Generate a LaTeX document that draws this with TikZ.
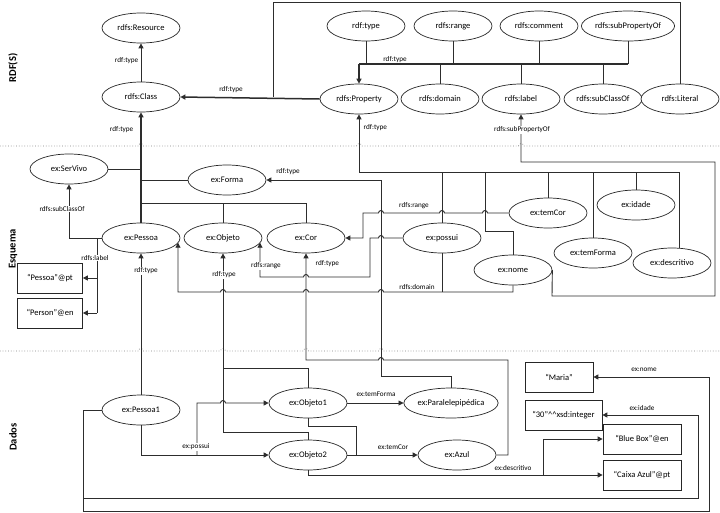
\documentclass[tikz,border=0pt]{standalone}
\usepackage{fontspec}
\setmainfont{Carlito}
\usetikzlibrary{shapes.geometric,arrows.meta}
\definecolor{lc}{RGB}{45,45,45}
\begin{document}
\begin{tikzpicture}[x=1pt,y=-1pt,
  ln/.style={draw=lc,line width=0.9pt},
  tk/.style={draw=lc,line width=1.5pt},
  arr/.style={ln,-{Triangle[length=5pt,width=5pt]}},
  tarr/.style={tk,-{Triangle[length=5pt,width=5pt]}},
  ell/.style={ellipse,draw=black!85,line width=0.7pt,minimum width=78pt,minimum height=30pt,inner sep=0pt,font=\fontsize{8.5}{10}\selectfont,fill=white},
  box/.style={rectangle,draw=black!85,line width=0.7pt,minimum height=30pt,inner sep=0pt,font=\fontsize{8.5}{10}\selectfont,fill=white},
  lbl/.style={font=\fontsize{7.2}{8}\selectfont,inner sep=0.5pt},
  wl/.style={lbl,fill=white},
  sec/.style={font=\bfseries\fontsize{10.5}{12}\selectfont,rotate=90},
  sep/.style={draw=gray,dotted,line width=0.7pt}]
\useasboundingbox[fill=white] (0,0) rectangle (720,512);

% section labels
\node[sec] (tRDF) at (13,68) {RDF(S)};
\node[sec] (tEsq) at (13,249) {Esquema};
\node[sec] (tDad) at (13,437) {Dados};

% separators (with hops)
\draw[sep] (0,146) -- (138.5,146) arc[start angle=180,end angle=360,radius=2.5]
  -- (356.5,146) arc[start angle=180,end angle=360,radius=2.5]
  -- (518.5,146) arc[start angle=180,end angle=360,radius=2.5] -- (720,146);
\draw[sep] (0,351) -- (138.5,351) arc[start angle=180,end angle=360,radius=2.5]
  -- (220.5,351) arc[start angle=180,end angle=360,radius=2.5]
  -- (303.5,351) arc[start angle=180,end angle=360,radius=2.5]
  -- (378.5,351) arc[start angle=180,end angle=360,radius=2.5] -- (720,351);

% RDF(S) nodes
\node[ell] (res) at (141,28) {rdfs:Resource};
\node[ell] (cls) at (141,97) {rdfs:Class};
\node[ell] (rtype) at (366,26) {rdf:type};
\node[ell] (rrange) at (453,26) {rdfs:range};
\node[ell] (rcomment) at (539,26) {rdfs:comment};
\node[ell,minimum width=88pt] (rsubprop) at (628,26) {rdfs:subPropertyOf};
\node[ell] (prop) at (359,99) {rdfs:Property};
\node[ell] (rdomain) at (440,99) {rdfs:domain};
\node[ell] (rlabel) at (521,99) {rdfs:label};
\node[ell] (rsubclass) at (603,99) {rdfs:subClassOf};
\node[ell] (rliteral) at (680,99) {rdfs:Literal};

% Esquema nodes
\node[ell] (servivo) at (69,169) {ex:SerVivo};
\node[ell] (forma) at (227,180) {ex:Forma};
\node[ell] (pessoa) at (141,238) {ex:Pessoa};
\node[ell] (objeto) at (223,238) {ex:Objeto};
\node[ell] (cor) at (306,238) {ex:Cor};
\node[ell] (possui) at (442,238) {ex:possui};
\node[ell] (temcor) at (548,213) {ex:temCor};
\node[ell] (idade) at (636,205) {ex:idade};
\node[ell] (temforma) at (593,253) {ex:temForma};
\node[ell] (nome) at (513,270) {ex:nome};
\node[ell] (descr) at (672,263) {ex:descritivo};
\node[box,minimum width=65pt] (ptbox) at (50,278) {“Pessoa”@pt};
\node[box,minimum width=65pt] (enbox) at (50,313) {“Person”@en};

% Dados nodes
\node[ell] (pessoa1) at (141,410) {ex:Pessoa1};
\node[ell] (objeto1) at (308,403) {ex:Objeto1};
\node[ell] (objeto2) at (308,455) {ex:Objeto2};
\node[ell,minimum width=89pt] (paral) at (451,403) {ex:Paralelepipédica};
\node[ell] (azul) at (457,455) {ex:Azul};
\node[box,minimum width=68pt] (maria) at (559,377) {“Maria”};
\node[box,minimum width=77pt] (trinta) at (563.5,415) {“30”\textasciicircum\textasciicircum xsd:integer};
\node[box,minimum width=78pt] (bluebox) at (642,439) {“Blue Box”@en};
\node[box,minimum width=78pt] (caixa) at (642,475) {“Caixa Azul”@pt};

% ---- RDF(S) connectors
\draw[arr] (cls.north) -- (res.south);
\draw[tarr] (prop.west) -- (cls.east);
\draw[ln] (rliteral.north) -- (680,2) -- (273,2) -- (273,97);
\draw[ln] (rtype.south) -- (366,64);
\draw[ln] (rrange.south) -- (453,64);
\draw[ln] (rcomment.south) -- (539,64);
\draw[ln] (rsubprop.south) -- (628,64);
\draw[ln] (rdomain.north) -- (440,64);
\draw[ln] (rlabel.north) -- (521,64);
\draw[ln] (rsubclass.north) -- (603,64);
\draw[tk] (628,64) -- (359,64);
\draw[tarr] (359,64) -- (prop.north);

% properties -> rdfs:Property
\draw[arr] (359,172) -- (prop.south);
\draw[ln] (359,172) -- (679,172);
\draw[ln] (possui.north) -- (442,172);
\draw[ln] (nome.north) -- (513,231) -- (485,231) -- (485,172);
\draw[ln] (temcor.north) -- (548,172);
\draw[ln] (temforma.north) -- (593,172);
\draw[ln] (idade.north) -- (636,172);
\draw[ln] (679,248.3) -- (679,172);

% ex:nome subPropertyOf rdfs:label
\draw[arr] (nome.east) -- (552,296) -- (715,296) -- (715,162) -- (521,162) -- (rlabel.south);

% classes -> rdfs:Class
\draw[tarr] (pessoa.north) -- (cls.south);
\draw[ln] (servivo.east) -- (141,169);
\draw[ln] (forma.west) -- (141,180);
\draw[ln] (141,203) -- (306,203) -- (cor.north);
\draw[ln] (objeto.north) -- (223,203);

% subClassOf, label
\draw[arr] (pessoa.west) -| (servivo.south);
\draw[ln] (97,238) -- (97,313);
\draw[arr] (97,278) -- (ptbox.east);
\draw[arr] (97,313) -- (enbox.east);

% range temCor -> Cor
\draw[{Triangle[length=5pt,width=5pt]}-,ln] (cor.east) -- (363,238) -- (363,213)
  -- (378.5,213) arc[start angle=180,end angle=360,radius=2.5]
  -- (439.5,213) arc[start angle=180,end angle=360,radius=2.5]
  -- (482.5,213) arc[start angle=180,end angle=360,radius=2.5]
  -- (temcor.west);
% range possui -> Objeto
\draw[arr] (possui.west) -- (383.5,238) arc[start angle=0,end angle=-180,radius=2.5]
  -- (370,238) -- (370,277)
  -- (308.5,277) arc[start angle=0,end angle=-180,radius=2.5]
  -- (260,277) -- (260,242.7);
% domain -> Pessoa
\draw[arr] (nome.south) -- (513,292)
  -- (383.5,292) arc[start angle=0,end angle=-180,radius=2.5]
  -- (308.5,292) arc[start angle=0,end angle=-180,radius=2.5]
  -- (225.5,292) arc[start angle=0,end angle=-180,radius=2.5]
  -- (178,292) -- (178,242.7);
\draw[ln] (possui.south) -- (442,292);

% rdf:type from data
\draw[arr] (paral.north) -- (451,376) -- (381,376) -- (381,180) -- (forma.east);
\draw[arr] (azul.east) -- (508,455) -- (508,360)
  -- (383.5,360) arc[start angle=0,end angle=-180,radius=2.5]
  -- (306,360) -- (cor.south);
\draw[arr] (pessoa1.north) -- (pessoa.south);
\draw[arr] (objeto2.north) -- (308,432) -- (223,432) -- (objeto.south);
\draw[ln] (objeto1.north) -- (308,368) -- (223,368);

% Dados properties
\draw[arr] (pessoa1.south) -- (141,455) -- (objeto2.west);
\draw[arr] (197,455) -- (197,403)
  -- (220.5,403) arc[start angle=180,end angle=360,radius=2.5] -- (objeto1.west);
\draw[arr] (objeto1.east) -- (paral.west);
\draw[arr] (objeto2.east) -- (azul.west);
\draw[ln] (objeto1.south) -- (308,426) -- (356,426) -- (356,455);
\draw[arr] (objeto2.south) -- (308,475) -- (caixa.west);
\draw[arr] (543,475) -- (543,439) -- (bluebox.west);
\draw[arr] (pessoa1.west) -- (83,410) -- (83,511) -- (709,511) -- (709,377) -- (maria.east);
\draw[arr] (83,498) -- (698,498) -- (698,415) -- (trinta.east);

% labels
\node[lbl,anchor=east] (l1) at (139,61) {rdf:type};
\node[lbl] (l2) at (231,90) {rdf:type};
\node[lbl] (l3) at (395,60) {rdf:type};
\node[lbl,anchor=east] (l4) at (134,130) {rdf:type};
\node[lbl,anchor=west] (l5) at (363,128) {rdf:type};
\node[wl] (l6) at (522,130) {rdfs:subPropertyOf};
\node[lbl] (l7) at (288,172) {rdf:type};
\node[lbl] (l8) at (414,206) {rdfs:range};
\node[wl] (l9) at (266,266) {rdfs:range};
\node[lbl,anchor=west] (l10) at (315,264) {rdf:type};
\node[wl] (l11) at (146,271) {rdf:type};
\node[wl] (l12) at (224,275) {rdf:type};
\node[lbl] (l13) at (417,287.5) {rdfs:domain};
\node[wl] (l14) at (62,209) {rdfs:subClassOf};
\node[wl] (l15) at (95,258) {rdfs:label};
\node[wl] (l16) at (196,447) {ex:possui};
\node[lbl] (l17) at (376,394) {ex:temForma};
\node[lbl] (l18) at (393,447) {ex:temCor};
\node[lbl] (l19) at (513,468) {ex:descritivo};
\node[lbl] (l20) at (644,370) {ex:nome};
\node[lbl] (l21) at (642,408) {ex:idade};
\end{tikzpicture}
\end{document}
